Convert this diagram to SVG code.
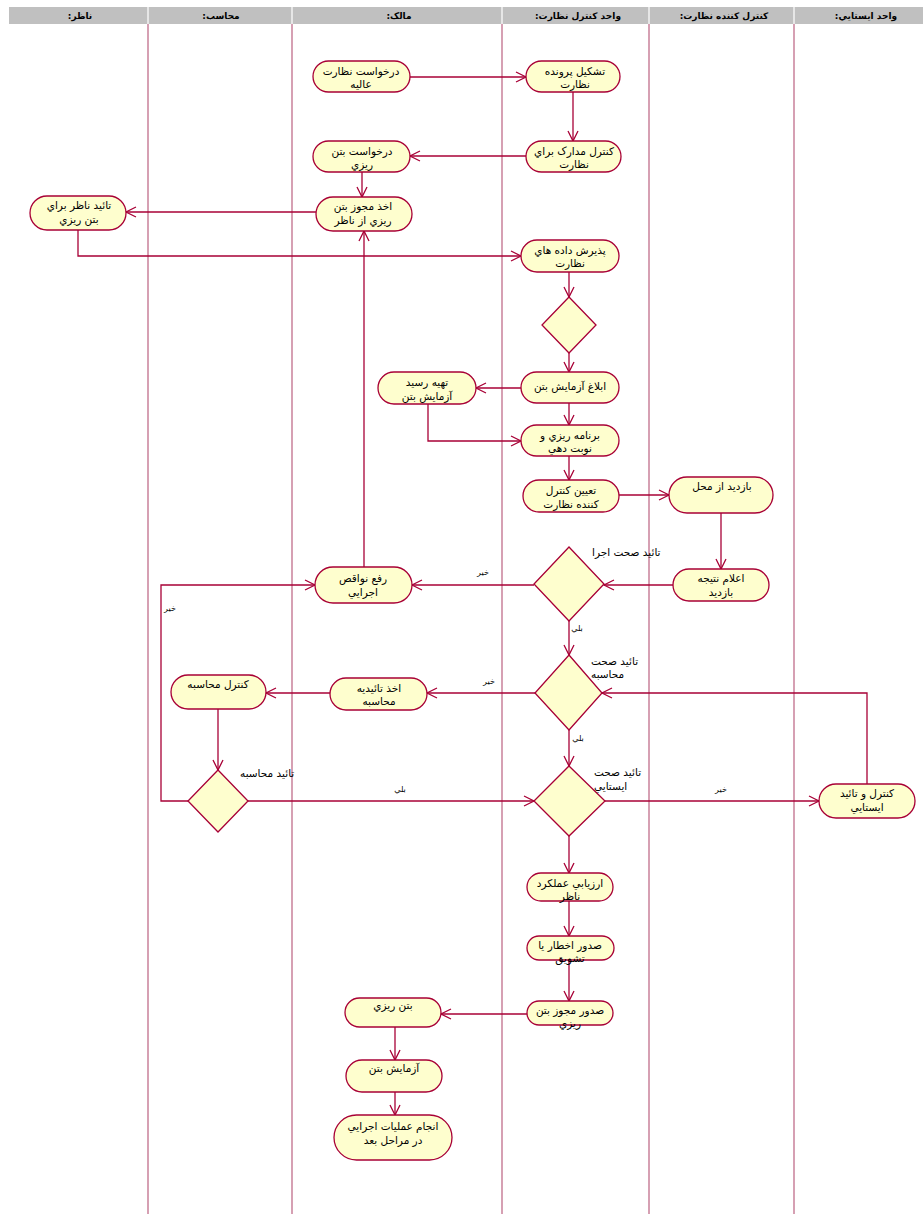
<svg xmlns="http://www.w3.org/2000/svg" width="923" height="1214" viewBox="0 0 923 1214">
<style>
.lane{stroke:#c8809a;stroke-width:1.5;fill:none}
.hdr{font-family:"DejaVu Sans",sans-serif;font-size:9px;font-weight:bold;fill:#000;text-anchor:middle;direction:rtl;unicode-bidi:embed}
.act{fill:#fefece;stroke:#a80036;stroke-width:1.3}
.t{font-family:"DejaVu Sans",sans-serif;font-size:10.5px;fill:#000;text-anchor:middle}
.lbl{font-family:"DejaVu Sans",sans-serif;font-size:10.5px;fill:#000;text-anchor:start}
.g{font-family:"DejaVu Sans",sans-serif;font-size:8px;fill:#000;text-anchor:middle}
.c{fill:none;stroke:#a80036;stroke-width:1.3}
</style>
<defs>
<marker id="ar" markerUnits="userSpaceOnUse" markerWidth="14" markerHeight="14" refX="11" refY="6" orient="auto">
<path d="M1,1 L11,6 L1,11" fill="none" stroke="#a80036" stroke-width="1.3"/>
</marker>
</defs>
<rect width="923" height="1214" fill="#fff"/>
<g id="lanes">
<rect x="9" y="7" width="914" height="17" fill="#c0c0c0"/>
<g stroke="#fff" stroke-width="1.2">
<line x1="148" y1="7" x2="148" y2="24"/><line x1="292" y1="7" x2="292" y2="24"/><line x1="502" y1="7" x2="502" y2="24"/><line x1="649" y1="7" x2="649" y2="24"/><line x1="794" y1="7" x2="794" y2="24"/>
</g>
<line class="lane" x1="148" y1="24" x2="148" y2="1214"/>
<line class="lane" x1="292" y1="24" x2="292" y2="1214"/>
<line class="lane" x1="502" y1="24" x2="502" y2="1214"/>
<line class="lane" x1="649" y1="24" x2="649" y2="1214"/>
<line class="lane" x1="794" y1="24" x2="794" y2="1214"/>
<text class="hdr" x="80" y="19">ناظر:</text>
<text class="hdr" x="221" y="19">محاسب:</text>
<text class="hdr" x="399" y="19">مالک:</text>
<text class="hdr" x="578" y="19">واحد کنترل نظارت:</text>
<text class="hdr" x="724" y="19">کنترل کننده نظارت:</text>
<text class="hdr" x="866" y="19">واحد ایستایي:</text>
</g>
<g id="connectors">
<line class="c" x1="410" y1="77" x2="526" y2="77" marker-end="url(#ar)"/>
<line class="c" x1="573" y1="92" x2="573" y2="141" marker-end="url(#ar)"/>
<line class="c" x1="526" y1="156" x2="410" y2="156" marker-end="url(#ar)"/>
<line class="c" x1="362" y1="172" x2="362" y2="197" marker-end="url(#ar)"/>
<line class="c" x1="316" y1="212" x2="126" y2="212" marker-end="url(#ar)"/>
<polyline class="c" points="78,230 78,256 521,256" marker-end="url(#ar)"/>
<line class="c" x1="569" y1="272" x2="569" y2="297" marker-end="url(#ar)"/>
<line class="c" x1="569" y1="353" x2="569" y2="372" marker-end="url(#ar)"/>
<line class="c" x1="521" y1="388" x2="476" y2="388" marker-end="url(#ar)"/>
<polyline class="c" points="428,404 428,441 521,441" marker-end="url(#ar)"/>
<line class="c" x1="569" y1="403" x2="569" y2="425" marker-end="url(#ar)"/>
<line class="c" x1="569" y1="456" x2="569" y2="480" marker-end="url(#ar)"/>
<line class="c" x1="619" y1="495" x2="669" y2="495" marker-end="url(#ar)"/>
<line class="c" x1="721" y1="513" x2="721" y2="569" marker-end="url(#ar)"/>
<line class="c" x1="673" y1="585" x2="604" y2="585" marker-end="url(#ar)"/>
<line class="c" x1="534" y1="585" x2="412" y2="585" marker-end="url(#ar)"/>
<text class="g" x="483" y="575">خیر</text>
<line class="c" x1="364" y1="567" x2="364" y2="231" marker-end="url(#ar)"/>
<line class="c" x1="569" y1="621" x2="569" y2="655" marker-end="url(#ar)"/>
<text class="g" x="577" y="631">بلي</text>
<line class="c" x1="535" y1="693" x2="427" y2="693" marker-end="url(#ar)"/>
<text class="g" x="489" y="684">خیر</text>
<line class="c" x1="330" y1="693" x2="266" y2="693" marker-end="url(#ar)"/>
<line class="c" x1="218" y1="709" x2="218" y2="770" marker-end="url(#ar)"/>
<polyline class="c" points="188,801 161,801 161,585 315,585" marker-end="url(#ar)"/>
<text class="g" x="170" y="611">خیر</text>
<line class="c" x1="248" y1="801" x2="534" y2="801" marker-end="url(#ar)"/>
<text class="g" x="400" y="792">بلي</text>
<line class="c" x1="569" y1="730" x2="569" y2="766" marker-end="url(#ar)"/>
<text class="g" x="578" y="741">بلي</text>
<line class="c" x1="605" y1="801" x2="819" y2="801" marker-end="url(#ar)"/>
<text class="g" x="721" y="792">خیر</text>
<polyline class="c" points="867,784 867,693 602,693" marker-end="url(#ar)"/>
<line class="c" x1="569" y1="836" x2="569" y2="873" marker-end="url(#ar)"/>
<line class="c" x1="569" y1="901" x2="569" y2="936" marker-end="url(#ar)"/>
<line class="c" x1="569" y1="960" x2="569" y2="1001" marker-end="url(#ar)"/>
<line class="c" x1="527" y1="1014" x2="441" y2="1014" marker-end="url(#ar)"/>
<line class="c" x1="395" y1="1027" x2="395" y2="1060" marker-end="url(#ar)"/>
<line class="c" x1="395" y1="1092" x2="395" y2="1115" marker-end="url(#ar)"/>
</g>
<g id="n1"><rect class="act" x="313" y="61" width="97" height="31" rx="15.5"/><text class="t" x="361" y="75">درخواست نظارت</text><text class="t" x="361" y="88">عالیه</text></g>
<g id="n2"><rect class="act" x="526" y="61" width="94" height="31" rx="15.5"/><text class="t" x="575" y="75">تشکیل پرونده</text><text class="t" x="575" y="88">نظارت</text></g>
<g id="n3"><rect class="act" x="526" y="141" width="95" height="31" rx="15.5"/><text class="t" x="574" y="155">کنترل مدارک براي</text><text class="t" x="574" y="168">نظارت</text></g>
<g id="n4"><rect class="act" x="313" y="141" width="97" height="31" rx="15.5"/><text class="t" x="362" y="155">درخواست بتن</text><text class="t" x="362" y="168">ریزي</text></g>
<g id="n5"><rect class="act" x="316" y="197" width="96" height="34" rx="17"/><text class="t" x="363" y="210">اخذ مجوز بتن</text><text class="t" x="363" y="224">ریزي از ناظر</text></g>
<g id="n6"><rect class="act" x="30" y="196" width="96" height="34" rx="17"/><text class="t" x="79" y="209">تائید ناظر براي</text><text class="t" x="79" y="223">بتن ریزي</text></g>
<g id="n7"><rect class="act" x="521" y="240" width="98" height="32" rx="16"/><text class="t" x="570" y="254">پذیرش داده هاي</text><text class="t" x="570" y="267">نظارت</text></g>
<g id="d1"><polygon class="act" points="569,297 596,325 569,353 542,325"/></g>
<g id="n9"><rect class="act" x="521" y="372" width="98" height="31" rx="15.5"/><text class="t" x="570" y="390">ابلاغ آزمایش بتن</text></g>
<g id="n10"><rect class="act" x="378" y="372" width="98" height="32" rx="16"/><text class="t" x="427" y="386">تهیه  رسید</text><text class="t" x="427" y="400">آزمایش بتن</text></g>
<g id="n11"><rect class="act" x="521" y="425" width="98" height="31" rx="15.5"/><text class="t" x="570" y="439">برنامه ریزي و</text><text class="t" x="570" y="452">نوبت دهي</text></g>
<g id="n12"><rect class="act" x="523" y="480" width="96" height="32" rx="16"/><text class="t" x="571" y="494">تعیین کنترل</text><text class="t" x="571" y="508">کننده نظارت</text></g>
<g id="n13"><rect class="act" x="669" y="477" width="104" height="36" rx="18"/><text class="t" x="722" y="490">بازدید از محل</text></g>
<g id="n14"><rect class="act" x="673" y="569" width="96" height="32" rx="16"/><text class="t" x="721" y="582">اعلام نتیجه</text><text class="t" x="721" y="596">بازدید</text></g>
<g id="d2"><polygon class="act" points="569,547 604,584 569,621 534,584"/><text class="lbl" x="592" y="556">تائید صحت اجرا</text></g>
<g id="n16"><rect class="act" x="315" y="567" width="97" height="36" rx="18"/><text class="t" x="363" y="582">رفع نواقص</text><text class="t" x="363" y="596">اجرایي</text></g>
<g id="d3"><polygon class="act" points="569,655 602,693 569,730 535,693"/><text class="lbl" x="591" y="665">تائید صحت</text><text class="lbl" x="591" y="678">محاسبه</text></g>
<g id="n18"><rect class="act" x="330" y="678" width="97" height="32" rx="16"/><text class="t" x="379" y="692">اخذ تائیدیه</text><text class="t" x="379" y="705">محاسبه</text></g>
<g id="n19"><rect class="act" x="171" y="675" width="95" height="34" rx="17"/><text class="t" x="218" y="688">کنترل محاسبه</text></g>
<g id="d4"><polygon class="act" points="218,770 248,801 218,832 188,801"/><text class="lbl" x="240" y="777">تائید محاسبه</text></g>
<g id="d5"><polygon class="act" points="569,766 605,801 569,836 534,801"/><text class="lbl" x="594" y="776">تائید صحت</text><text class="lbl" x="594" y="790">ایستایي</text></g>
<g id="n22"><rect class="act" x="819" y="784" width="96" height="34" rx="17"/><text class="t" x="867" y="797">کنترل و تائید</text><text class="t" x="867" y="811">ایستایي</text></g>
<g id="n23"><rect class="act" x="527" y="873" width="86" height="28" rx="14"/><text class="t" x="570" y="887">ارزیابي عملکرد</text><text class="t" x="570" y="900">ناظر</text></g>
<g id="n24"><rect class="act" x="527" y="936" width="87" height="24" rx="12"/><text class="t" x="570" y="949">صدور اخطار یا</text><text class="t" x="570" y="962">تشویق</text></g>
<g id="n25"><rect class="act" x="527" y="1001" width="86" height="24" rx="12"/><text class="t" x="570" y="1014">صدور مجوز بتن</text><text class="t" x="570" y="1027">ریزي</text></g>
<g id="n26"><rect class="act" x="345" y="998" width="96" height="29" rx="14.5"/><text class="t" x="393" y="1009">بتن ریزي</text></g>
<g id="n27"><rect class="act" x="346" y="1060" width="96" height="32" rx="16"/><text class="t" x="394" y="1072">آزمایش بتن</text></g>
<g id="n28"><rect class="act" x="334" y="1115" width="118" height="45" rx="22.5"/><text class="t" x="393" y="1130">انجام عملیات اجرایي</text><text class="t" x="393" y="1144">در مراحل بعد</text></g>
</svg>
